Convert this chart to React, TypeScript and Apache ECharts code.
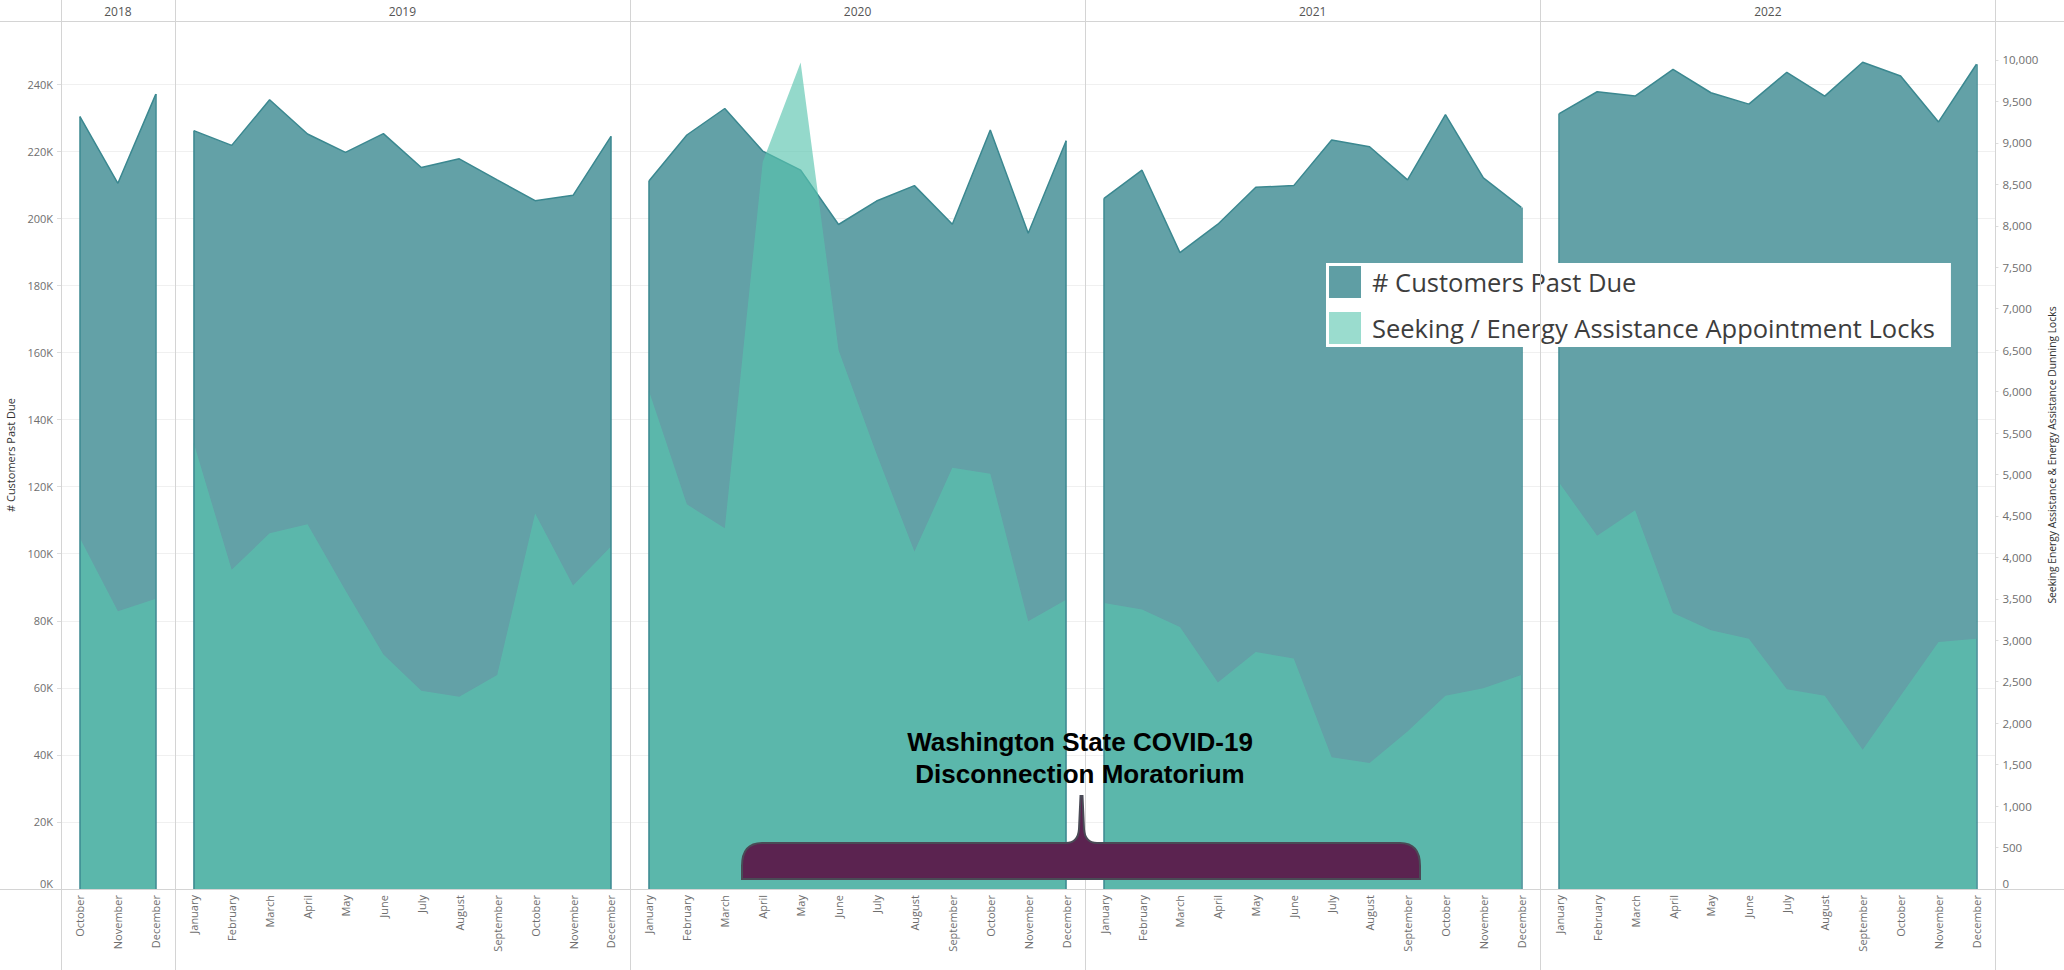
import React, { useEffect, useRef } from "react";
import * as echarts from "echarts";

// ---------- DATA ----------
const YEARS = ["2018", "2019", "2020", "2021", "2022"];
const MONTHS_2018 = ["October", "November", "December"];
const MONTHS = [
  "January", "February", "March", "April", "May", "June",
  "July", "August", "September", "October", "November", "December",
];

const CUST_NAME = "# Customers Past Due";
const SEEK_NAME = "Seeking / Energy Assistance Appointment Locks";

// # Customers Past Due (left axis)
const customers2018 = [230400, 210500, 237100];
const customers2019 = [226200, 221800, 235400, 225200, 219700, 225300, 215200, 217800, 211500, 205300, 206900, 224500];
const customers2020 = [211200, 224900, 232800, 220100, 214400, 198200, 205200, 209800, 198300, 226400, 195600, 223200];
const customers2021 = [206000, 214400, 189800, 198300, 209300, 209800, 223400, 221400, 211500, 231000, 212100, 203300];
const customers2022 = [231300, 237800, 236500, 244500, 237500, 234100, 243600, 236500, 246600, 242500, 228800, 246000];

// Seeking Energy Assistance & Energy Assistance Dunning Locks (right axis)
const seeking2018 = [4230, 3350, 3500];
const seeking2019 = [5380, 3850, 4290, 4400, 3600, 2830, 2390, 2320, 2580, 4530, 3660, 4130];
const seeking2020 = [6010, 4640, 4350, 8770, 9970, 6500, 5250, 4070, 5080, 5010, 3230, 3490];
const seeking2021 = [3450, 3370, 3160, 2490, 2860, 2780, 1590, 1520, 1900, 2330, 2420, 2580];
const seeking2022 = [4900, 4260, 4570, 3330, 3120, 3020, 2410, 2330, 1680, 2330, 2980, 3020];

const LEFT_TITLE = "# Customers Past Due";
const RIGHT_TITLE = "Seeking Energy Assistance & Energy Assistance Dunning Locks";
const ANNOTATION = "Washington State COVID-19\nDisconnection Moratorium";

const panelMonths = [MONTHS_2018, MONTHS, MONTHS, MONTHS, MONTHS];
const panelCustomers = [customers2018, customers2019, customers2020, customers2021, customers2022];
const panelSeeking = [seeking2018, seeking2019, seeking2020, seeking2021, seeking2022];

// ---------- LAYOUT / STYLE ----------
const W = 2064;
const H = 970;
const PLOT_TOP = 21;
const PLOT_BOTTOM = 889;
const LEFT0 = 61;
const MONTH_W = 37.93;
const LEFT_MAX = 258900;
const RIGHT_MAX = 10470;
const FONT = "'Open Sans', 'DejaVu Sans', sans-serif";
const GRID_LINE = "#d4d4d4";
const CUST_FILL = "#63a1a7";
const CUST_LINE = "#3b8890";
const SEEK_FILL = "rgba(87,196,174,0.64)";

const BRACE_D =
  "M742,879 L742,866 Q742,843 762,843 L1066,843 Q1078,843 1079,829 L1080.5,796 L1082.5,796 L1084,829 Q1085,843 1097,843 L1400,843 Q1420,843 1420,866 L1420,879 Z";

echarts.graphic.registerShape("brace", echarts.graphic.extendPath(BRACE_D, {}));

function buildOption() {
  const borders: number[] = [LEFT0];
  panelMonths.forEach((m) => borders.push(borders[borders.length - 1] + m.length * MONTH_W));

  const grid = panelMonths.map((m, i) => ({
    left: borders[i],
    width: m.length * MONTH_W,
    top: PLOT_TOP,
    height: PLOT_BOTTOM - PLOT_TOP,
  }));

  const xAxis = panelMonths.map((m, i) => ({
    gridIndex: i,
    type: "category",
    data: m,
    boundaryGap: true,
    axisLine: { show: false },
    axisTick: { show: false },
    splitLine: { show: false },
    axisLabel: {
      rotate: 90,
      interval: 0,
      margin: 6,
      fontSize: 11,
      color: "#6e6e6e",
      fontFamily: FONT,
    },
  }));

  const yAxis: any[] = [];
  panelMonths.forEach((_, i) => {
    yAxis.push({
      gridIndex: i,
      type: "value",
      position: "left",
      min: 0,
      max: LEFT_MAX,
      interval: 20000,
      axisLine: { show: false },
      axisTick: { show: i === 0, length: 4, lineStyle: { color: "#dddddd" } },
      splitLine: { show: true, lineStyle: { color: "#f0f0f0", width: 1 } },
      axisLabel: {
        show: i === 0,
        showMaxLabel: false,
        verticalAlignMinLabel: "bottom",
        margin: 8,
        fontSize: 11,
        color: "#6e6e6e",
        fontFamily: FONT,
        formatter: (v: number) => (v === 0 ? "0K" : v / 1000 + "K"),
      },
    });
    yAxis.push({
      gridIndex: i,
      type: "value",
      position: "right",
      min: 0,
      max: RIGHT_MAX,
      interval: 500,
      axisLine: { show: false },
      axisTick: { show: i === 4, length: 3, lineStyle: { color: "#dddddd" } },
      splitLine: { show: false },
      axisLabel: {
        show: i === 4,
        showMaxLabel: false,
        verticalAlignMinLabel: "bottom",
        margin: 7,
        fontSize: 11.5,
        color: "#6e6e6e",
        fontFamily: FONT,
        formatter: (v: number) => v.toLocaleString("en-US"),
      },
    });
  });

  const series: any[] = [];
  panelMonths.forEach((m, i) => {
    const cust = panelCustomers[i];
    const n = cust.length;
    series.push({
      type: "line",
      name: CUST_NAME,
      xAxisIndex: i,
      yAxisIndex: 2 * i,
      data: cust,
      symbol: "none",
      showSymbol: false,
      z: 2,
      lineStyle: { color: CUST_LINE, width: 1.5 },
      itemStyle: { color: "#5f9ea4" },
      areaStyle: { color: CUST_FILL, opacity: 1 },
      markLine: {
        silent: true,
        symbol: ["none", "none"],
        label: { show: false },
        lineStyle: { color: CUST_LINE, width: 1.5, type: "solid" },
        data: [
          [{ coord: [m[0], 0] }, { coord: [m[0], cust[0]] }],
          [{ coord: [m[n - 1], 0] }, { coord: [m[n - 1], cust[n - 1]] }],
        ],
      },
    });
    series.push({
      type: "line",
      name: SEEK_NAME,
      xAxisIndex: i,
      yAxisIndex: 2 * i + 1,
      data: panelSeeking[i],
      symbol: "none",
      showSymbol: false,
      z: 3,
      lineStyle: { width: 0, opacity: 0 },
      itemStyle: { color: "rgba(87,196,174,0.6)" },
      areaStyle: { color: SEEK_FILL, opacity: 1 },
    });
  });

  const graphic: any[] = [];
  // frame lines
  graphic.push({
    type: "line",
    silent: true,
    shape: { x1: 0, y1: PLOT_TOP + 0.5, x2: W, y2: PLOT_TOP + 0.5 },
    style: { stroke: GRID_LINE, lineWidth: 1 },
    z: 50,
  });
  graphic.push({
    type: "line",
    silent: true,
    shape: { x1: 0, y1: PLOT_BOTTOM + 0.5, x2: W, y2: PLOT_BOTTOM + 0.5 },
    style: { stroke: GRID_LINE, lineWidth: 1 },
    z: 50,
  });
  borders.forEach((b) => {
    graphic.push({
      type: "line",
      silent: true,
      shape: { x1: Math.round(b) + 0.5, y1: 0, x2: Math.round(b) + 0.5, y2: H },
      style: { stroke: GRID_LINE, lineWidth: 1 },
      z: 50,
    });
  });
  // year headers
  YEARS.forEach((y, i) => {
    graphic.push({
      type: "text",
      silent: true,
      x: (borders[i] + borders[i + 1]) / 2,
      y: 11,
      style: {
        text: y,
        fill: "#555555",
        fontSize: 12,
        fontFamily: FONT,
        align: "center",
        verticalAlign: "middle",
        textAlign: "center",
        textVerticalAlign: "middle",
      },
    });
  });
  // axis titles
  graphic.push({
    type: "text",
    silent: true,
    x: 10,
    y: (PLOT_TOP + PLOT_BOTTOM) / 2,
    rotation: Math.PI / 2,
    style: {
      text: LEFT_TITLE,
      fill: "#333333",
      fontSize: 11,
      fontFamily: FONT,
      align: "center",
      verticalAlign: "middle",
      textAlign: "center",
      textVerticalAlign: "middle",
    },
  });
  graphic.push({
    type: "text",
    silent: true,
    x: 2052,
    y: (PLOT_TOP + PLOT_BOTTOM) / 2,
    rotation: Math.PI / 2,
    style: {
      text: RIGHT_TITLE,
      fill: "#333333",
      fontSize: 10.3,
      fontFamily: FONT,
      align: "center",
      verticalAlign: "middle",
      textAlign: "center",
      textVerticalAlign: "middle",
    },
  });
  // annotation
  graphic.push({
    type: "brace",
    silent: true,
    x: 0,
    y: 0,
    z: 100,
    style: { fill: "#5b2350", stroke: "#4a4a56", lineWidth: 2 },
  });
  graphic.push({
    type: "text",
    silent: true,
    x: 1080,
    y: 758,
    z: 100,
    style: {
      text: ANNOTATION,
      fill: "#000000",
      fontSize: 26,
      fontWeight: "bold",
      fontFamily: "'Liberation Sans', Arial, sans-serif",
      lineHeight: 32,
      align: "center",
      verticalAlign: "middle",
      textAlign: "center",
      textVerticalAlign: "middle",
    },
  });

  return {
    animation: false,
    backgroundColor: "#ffffff",
    grid,
    xAxis,
    yAxis,
    series,
    graphic,
    legend: {
      data: [CUST_NAME, SEEK_NAME],
      left: 1326,
      top: 263,
      orient: "vertical",
      backgroundColor: "#ffffff",
      padding: [3, 16, 3, 3],
      itemWidth: 32,
      itemHeight: 32,
      itemGap: 14,
      icon: "rect",
      selectedMode: false,
      itemStyle: { borderWidth: 0 },
      textStyle: {
        fontSize: 25.5,
        color: "#3d3d3d",
        fontFamily: FONT,
        padding: [0, 0, 0, 6],
      },
      z: 20,
    },
  };
}

export default function App() {
  const ref = useRef<HTMLDivElement>(null);
  useEffect(() => {
    document.body.style.margin = "0";
    if (!ref.current) return;
    const chart = echarts.init(ref.current, undefined, { renderer: "svg" });
    chart.setOption(buildOption() as any);
    return () => chart.dispose();
  }, []);
  return <div ref={ref} style={{ width: W, height: H }} />;
}
